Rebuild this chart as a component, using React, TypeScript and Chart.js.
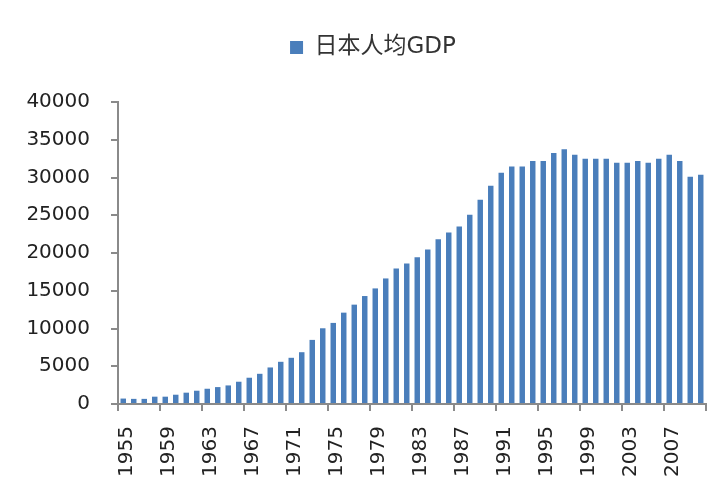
import React, { useEffect, useRef } from "react";
import { Chart, registerables } from "chart.js";

Chart.register(...registerables);

const years = [
  "1955", "1956", "1957", "1958", "1959", "1960", "1961", "1962", "1963", "1964",
  "1965", "1966", "1967", "1968", "1969", "1970", "1971", "1972", "1973", "1974",
  "1975", "1976", "1977", "1978", "1979", "1980", "1981", "1982", "1983", "1984",
  "1985", "1986", "1987", "1988", "1989", "1990", "1991", "1992", "1993", "1994",
  "1995", "1996", "1997", "1998", "1999", "2000", "2001", "2002", "2003", "2004",
  "2005", "2006", "2007", "2008", "2009", "2010",
];

const gdpPerCapita = [
  720, 680, 680, 970, 970, 1230, 1500, 1760, 2020, 2240,
  2460, 2950, 3480, 4000, 4840, 5590, 6120, 6860, 8490, 10030,
  10740, 12100, 13160, 14300, 15310, 16630, 17950, 18610, 19450, 20460,
  21820, 22700, 23500, 25080, 27060, 28900, 30620, 31460, 31460, 32200,
  32200, 33260, 33750, 33000, 32470, 32470, 32470, 31940, 31940, 32200,
  31940, 32470, 33000, 32200, 30100, 30360,
];

const xTickLabels = [
  "1955", "1959", "1963", "1967", "1971", "1975", "1979", "1983",
  "1987", "1991", "1995", "1999", "2003", "2007",
];

const yTickValues = [0, 5000, 10000, 15000, 20000, 25000, 30000, 35000, 40000];

const seriesLabel = "日本人均GDP";

const legendShift = {
  id: "legendShift",
  afterLayout(chart: any) {
    const l = chart.legend;
    if (l) {
      l.left += 10;
      l.right += 10;
    }
  },
};

export default function App() {
  const ref = useRef<HTMLCanvasElement>(null);

  useEffect(() => {
    const axisGray = "#8a8a8a";
    const fontFamily = "'DejaVu Sans', 'Noto Sans CJK SC', sans-serif";
    const font = { family: fontFamily, size: 20 };
    const chart = new Chart(ref.current as HTMLCanvasElement, {
      type: "bar",
      data: {
        labels: years,
        datasets: [
          {
            label: seriesLabel,
            data: gdpPerCapita,
            backgroundColor: "#4a7ebb",
            borderWidth: 0,
            barPercentage: 0.52,
            categoryPercentage: 1,
          },
        ],
      },
      plugins: [legendShift],
      options: {
        responsive: false,
        animation: false,
        events: [],
        layout: { padding: { left: 20, right: 18, top: 26, bottom: 0 } },
        plugins: {
          legend: {
            display: true,
            position: "top",
            labels: {
              font: { family: fontFamily, size: 23 },
              color: "#333333",
              boxWidth: 13,
              boxHeight: 13,
              padding: 10,
            },
          },
          title: {
            display: true,
            text: "",
            weight: 500,
            font: { size: 10, lineHeight: 1 },
            padding: { top: 0, bottom: 23 },
          },
          tooltip: { enabled: false },
        },
        scales: {
          x: {
            offset: true,
            grid: {
              offset: true,
              drawOnChartArea: false,
              drawTicks: true,
              tickLength: 7,
              lineWidth: 2,
              color: (c: any) =>
                c.type !== "tick" || c.index % 4 === 0 ? axisGray : "rgba(0,0,0,0)",
            },
            border: { display: true, color: axisGray, width: 2 },
            ticks: {
              autoSkip: false,
              minRotation: 90,
              maxRotation: 90,
              padding: 15,
              labelOffset: 4,
              font,
              color: "#222222",
              callback: (_v: any, index: number) => {
                const lbl = years[index];
                return xTickLabels.includes(lbl) ? lbl : "";
              },
            },
            afterFit: (s: any) => {
              s.height = 80;
              s.paddingLeft = 0;
              s.paddingRight = 0;
            },
          },
          y: {
            min: 0,
            max: 40000,
            afterBuildTicks: (s: any) => {
              s.ticks = yTickValues.map((v) => ({ value: v }));
            },
            grid: {
              drawOnChartArea: false,
              drawTicks: true,
              tickLength: 7,
              lineWidth: 2,
              color: axisGray,
            },
            border: { display: true, color: axisGray, width: 2 },
            ticks: {
              padding: 21,
              font,
              color: "#222222",
              callback: (v: any) => String(v),
            },
            afterFit: (s: any) => {
              s.width = 98;
            },
          },
        },
      },
    });
    return () => chart.destroy();
  }, []);

  return (
    <div
      style={{
        position: "fixed",
        left: 0,
        top: 0,
        width: 724,
        height: 484,
        background: "#ffffff",
      }}
    >
      <canvas ref={ref} width={724} height={484} style={{ display: "block" }} />
    </div>
  );
}
